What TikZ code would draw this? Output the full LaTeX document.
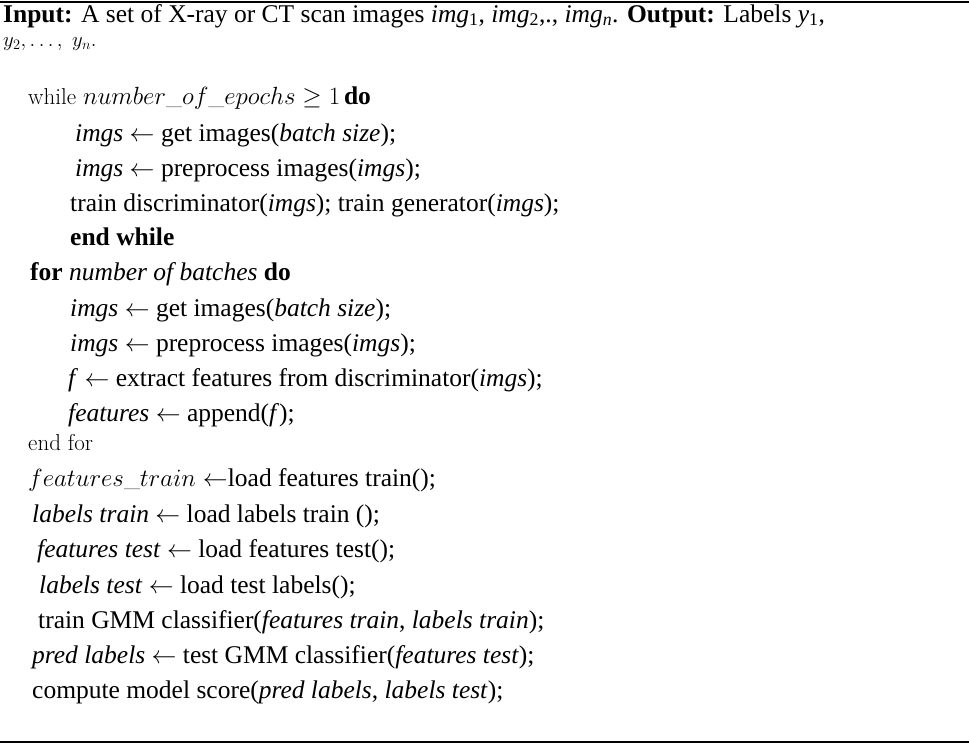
\documentclass[tikz,border=0pt]{standalone}
\usepackage{fontspec}
\setmainfont{Liberation Serif}
\newfontfamily\lmr{Latin Modern Roman}
\tikzset{ln/.style={anchor=base west,inner sep=0pt,font=\fontsize{25.5}{30}\selectfont},
lm/.style={anchor=base west,inner sep=0pt,font=\lmr\fontsize{23}{27}\selectfont}}
\begin{document}
\begin{tikzpicture}[x=1pt,y=-1pt]
\useasboundingbox (0,0) rectangle (969,744);
\draw[line width=1.5pt] (0,2) -- (969,2);
\draw[line width=1.2pt] (0,742) -- (969,742);
\node[ln] (l1) at (3,22) {\textbf{Input:} A set of X-ray or CT scan images \textit{img}\textsubscript{1}, \textit{img}\textsubscript{2},., \textit{img}\textsubscript{\textit{n}}. \textbf{Output:} Labels \textit{y}\textsubscript{1},};
\node[lm] (l2) at (3,46) {\fontsize{20}{24}\selectfont$y_2,\ldots,\ y_n.$};
\node[lm] (l3) at (28,104) {while $number\_of\_epochs \geq 1$\,\fontspec{Liberation Serif}\fontsize{25.5}{30}\selectfont\bfseries do};
\node[ln] (l4) at (75,141) {\textit{imgs} $\leftarrow$ get images(\textit{batch size});};
\node[ln] (l5) at (75,176) {\textit{imgs} $\leftarrow$ preprocess images(\textit{imgs});};
\node[ln] (l6) at (70,211) {train discriminator(\textit{imgs}); train generator(\textit{imgs});};
\node[ln] (l7) at (70,245) {\textbf{end while}};
\node[ln] (l8) at (30,280) {\textbf{for} \textit{number of batches} \textbf{do}};
\node[ln] (l9) at (70,316) {\textit{imgs} $\leftarrow$ get images(\textit{batch size});};
\node[ln] (l10) at (70,351) {\textit{imgs} $\leftarrow$ preprocess images(\textit{imgs});};
\node[ln] (l11) at (68,386) {\textit{f} $\leftarrow$ extract features from discriminator(\textit{imgs});};
\node[ln] (l12) at (68,421) {\textit{features} $\leftarrow$ append(\textit{f});};
\node[lm] (l13) at (28,450) {end for};
\node[ln] (l14) at (28,486) {{\lmr\fontsize{23}{27}\selectfont$features\_train\leftarrow$}load features train();};
\node[ln] (l15) at (32,522) {\textit{labels train} $\leftarrow$ load labels train ();};
\node[ln] (l16) at (37,557) {\textit{features test} $\leftarrow$ load features test();};
\node[ln] (l17) at (39,593) {\textit{labels test} $\leftarrow$ load test labels();};
\node[ln] (l18) at (38,628) {train GMM classifier(\textit{features train}, \textit{labels train});};
\node[ln] (l19) at (32,663) {\textit{pred labels} $\leftarrow$ test GMM classifier(\textit{features test});};
\node[ln] (l20) at (32,698) {compute model score(\textit{pred labels}, \textit{labels test});};
\end{tikzpicture}
\end{document}
